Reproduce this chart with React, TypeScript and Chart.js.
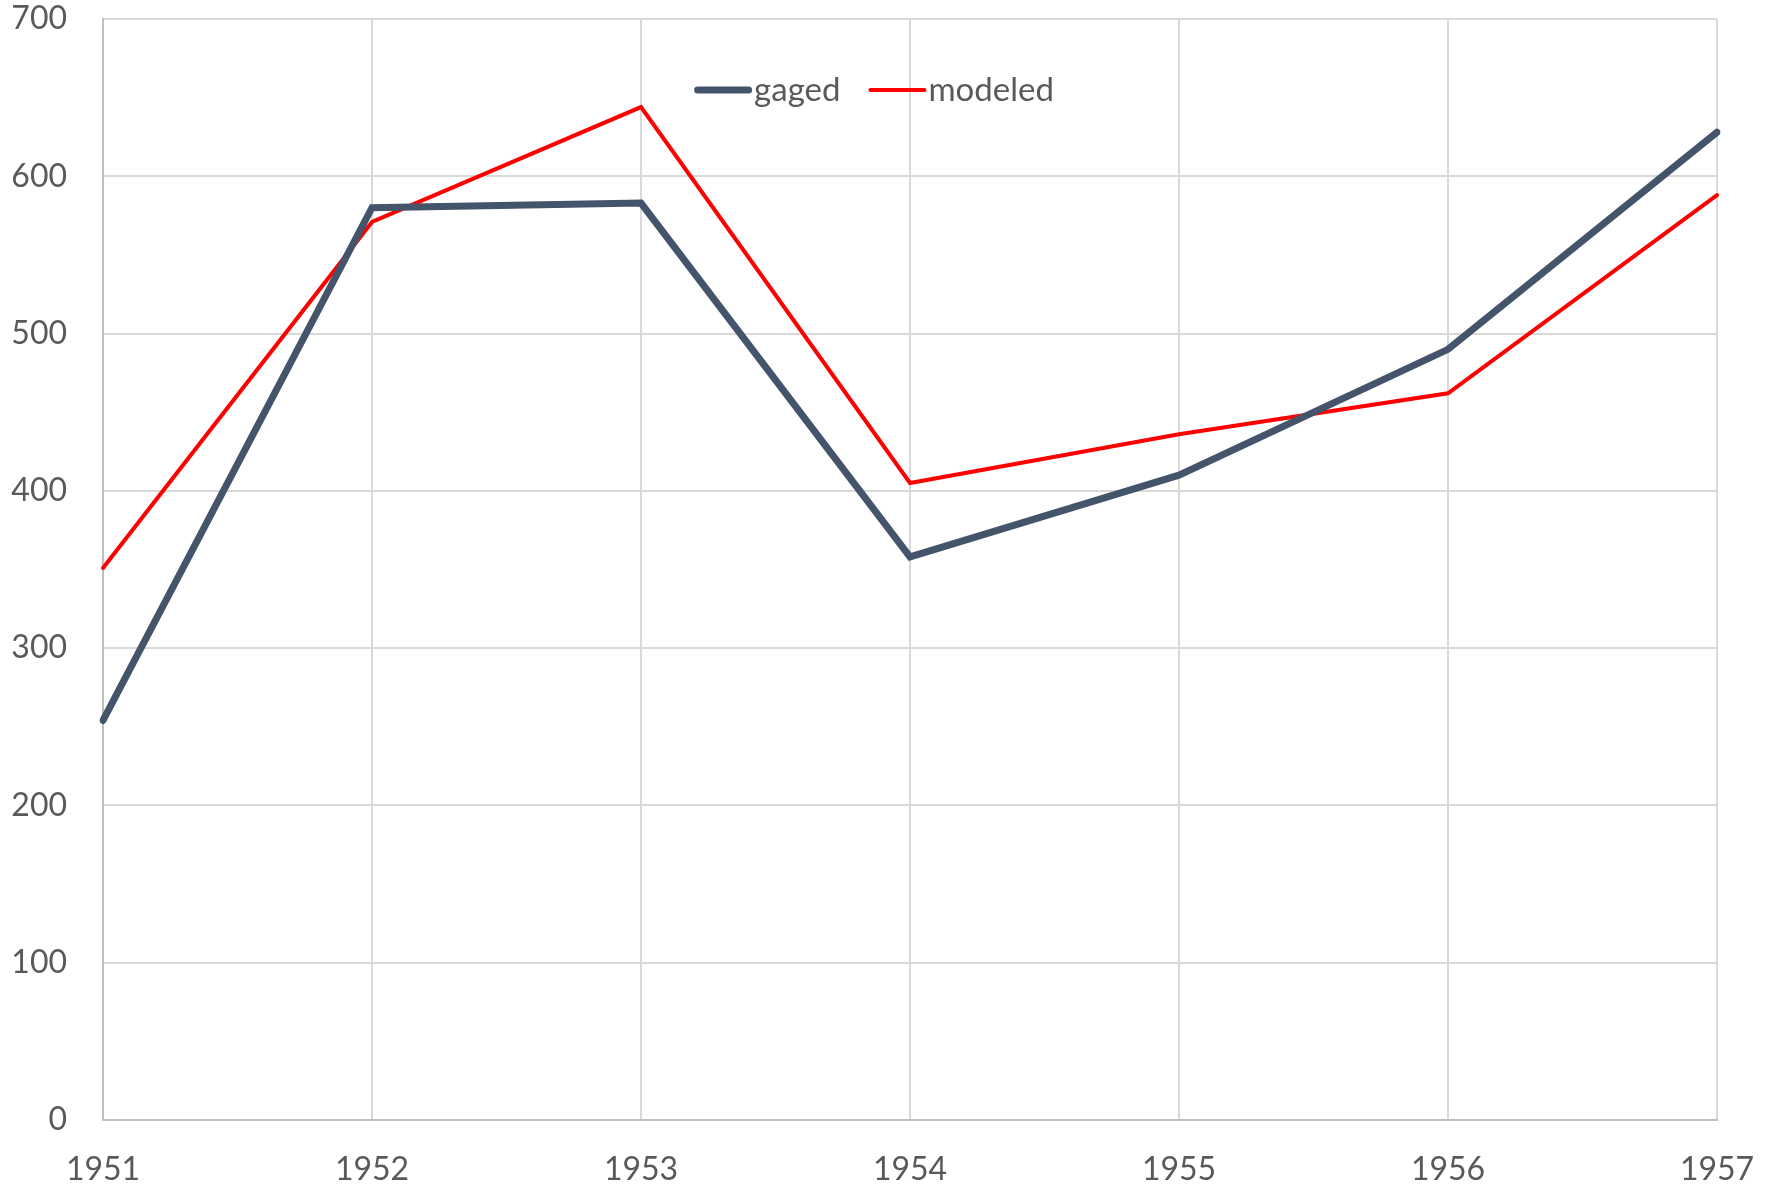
import React, { useEffect, useRef } from "react";
import { Chart, registerables } from "chart.js";

Chart.register(...registerables);

const years = ["1951", "1952", "1953", "1954", "1955", "1956", "1957"];
const gaged = [254, 580, 583, 358, 410, 490, 628];
const modeled = [351, 571, 644, 405, 436, 462, 588];
const yMin = 0;
const yMax = 700;
const yStep = 100;

const FONT = "Lato, 'Open Sans', sans-serif";
const TEXT = "#595959";

const legendPlugin = {
  id: "insideLegend",
  afterDraw(chart: any) {
    const ctx = chart.ctx;
    const items = chart.data.datasets.map((d: any) => ({
      label: d.label,
      color: d.borderColor,
      width: d.borderWidth,
    }));
    ctx.save();
    ctx.font = `33px ${FONT}`;
    const lineLen = 58;
    const textGap = 2;
    const itemGap = 28;
    let total = 0;
    items.forEach((it: any, i: number) => {
      total += lineLen + textGap + ctx.measureText(it.label).width;
      if (i < items.length - 1) total += itemGap;
    });
    let x = 874 - total / 2;
    const y = 90;
    items.forEach((it: any) => {
      ctx.strokeStyle = it.color;
      ctx.lineWidth = it.width;
      ctx.lineCap = "round";
      ctx.beginPath();
      ctx.moveTo(x + it.width / 2, y);
      ctx.lineTo(x + lineLen - it.width / 2, y);
      ctx.stroke();
      x += lineLen + textGap;
      ctx.fillStyle = TEXT;
      ctx.textBaseline = "middle";
      ctx.textAlign = "left";
      ctx.fillText(it.label, x, y);
      x += ctx.measureText(it.label).width + itemGap;
    });
    ctx.restore();
  },
};

export default function App() {
  const ref = useRef<HTMLCanvasElement | null>(null);
  useEffect(() => {
    if (!ref.current) return;
    const chart = new Chart(ref.current, {
      type: "line",
      data: {
        labels: years,
        datasets: [
          {
            label: "gaged",
            data: gaged,
            borderColor: "#44546A",
            backgroundColor: "#44546A",
            borderWidth: 7,
            pointRadius: 0,
            borderCapStyle: "round",
            tension: 0,
          },
          {
            label: "modeled",
            data: modeled,
            borderColor: "#FF0000",
            backgroundColor: "#FF0000",
            borderWidth: 4,
            pointRadius: 0,
            borderCapStyle: "round",
            tension: 0,
          },
        ],
      },
      options: {
        animation: false,
        responsive: false,
        maintainAspectRatio: false,
        layout: { padding: { left: 0, right: 58, top: 19, bottom: 0 } },
        plugins: {
          legend: { display: false },
          tooltip: { enabled: false },
        },
        scales: {
          x: {
            type: "category",
            offset: false,
            grid: { color: "#D9D9D9", lineWidth: 2, drawTicks: false },
            border: { color: "#BFBFBF", width: 2 },
            ticks: {
              color: TEXT,
              font: { family: FONT, size: 32 },
              padding: 30,
              maxRotation: 0,
              autoSkip: false,
            },
            afterFit: (s: any) => {
              s.height = 73;
              s.paddingLeft = 0;
              s.paddingRight = 0;
            },
          },
          y: {
            min: yMin,
            max: yMax,
            grid: { color: "#D9D9D9", lineWidth: 2, drawTicks: false },
            border: { color: "#BFBFBF", width: 2 },
            ticks: {
              stepSize: yStep,
              color: TEXT,
              font: { family: FONT, size: 32 },
              padding: 36,
            },
            afterFit: (s: any) => {
              s.width = 103;
              s.paddingTop = 0;
              s.paddingBottom = 0;
            },
          },
        },
      },
      plugins: [legendPlugin],
    });
    return () => chart.destroy();
  }, []);
  return (
    <div style={{ position: "fixed", left: 0, top: 0, width: 1775, height: 1193, background: "#fff" }}>
      <canvas ref={ref} width={1775} height={1193} style={{ width: 1775, height: 1193 }} />
    </div>
  );
}
